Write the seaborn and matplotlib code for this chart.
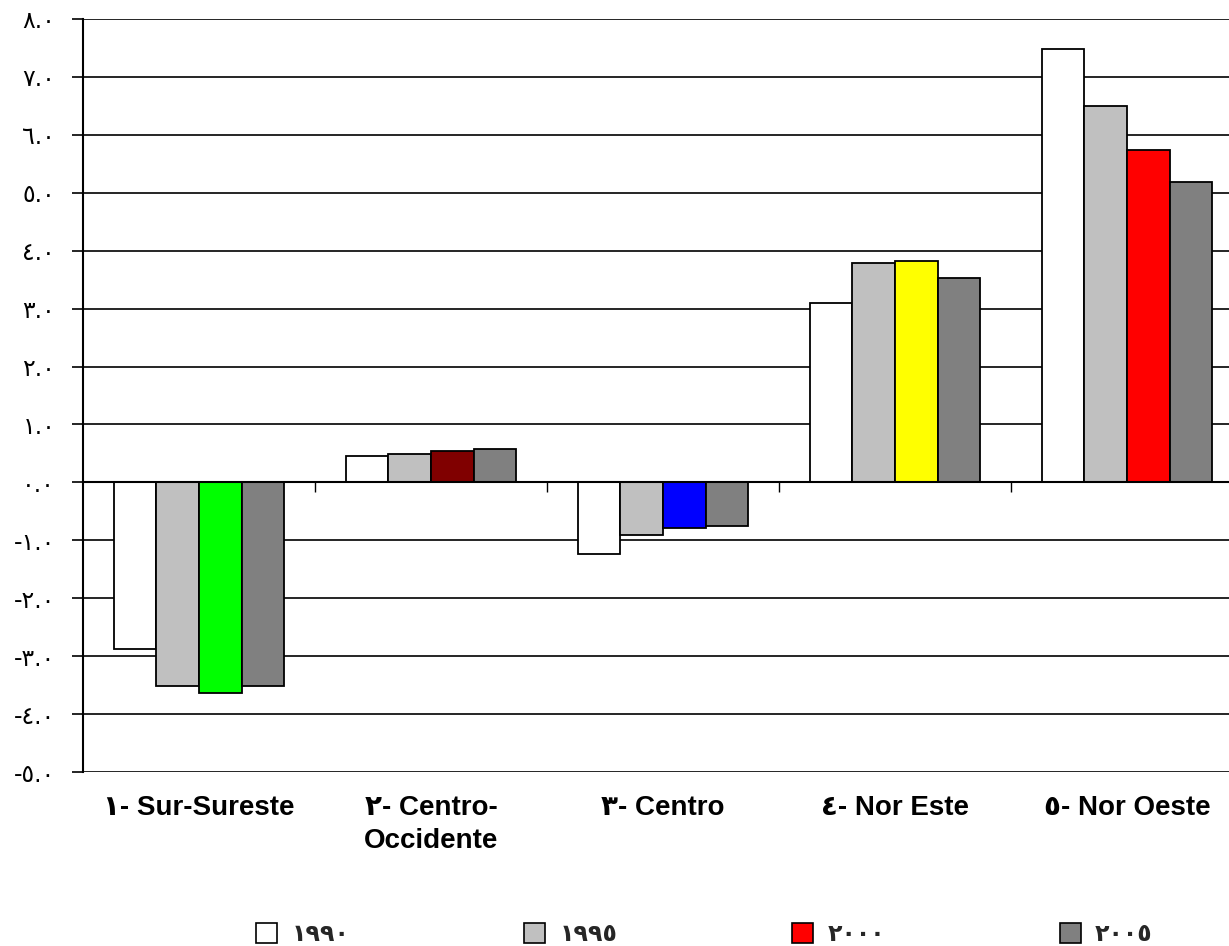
import numpy as np
import pandas as pd
import seaborn as sns
import matplotlib.pyplot as plt
from matplotlib.patches import Patch

# ---- data ----
regions = ["١- Sur-Sureste", "٢- Centro-\nOccidente", "٣- Centro", "٤- Nor Este", "٥- Nor Oeste"]
years = ["١٩٩٠", "١٩٩٥", "٢٠٠٠", "٢٠٠٥"]
v1990 = [-2.88, 0.45, -1.23, 3.10, 7.49]
v1995 = [-3.51, 0.49, -0.90, 3.79, 6.49]
v2000 = [-3.64, 0.54, -0.79, 3.83, 5.73]
v2005 = [-3.51, 0.58, -0.76, 3.53, 5.19]
yticks = list(range(-5, 9))

series_colors = ["#FFFFFF", "#C0C0C0", "#FF0000", "#808080"]
colors_2000 = ["#00FF00", "#800000", "#0000FF", "#FFFF00", "#FF0000"]

rows = []
for yr, vals in zip(years, [v1990, v1995, v2000, v2005]):
    for r, v in zip(regions, vals):
        rows.append({"region": r, "year": yr, "value": v})
df = pd.DataFrame(rows)

sns.set_theme(style="white")
plt.rcParams["font.family"] = ["Liberation Sans", "DejaVu Sans"]

fig = plt.figure(figsize=(12.29, 9.46), dpi=100)
W, H = 1229, 946
ax = fig.add_axes([83 / W, (H - 772) / H, 1160 / W, (772 - 19) / H])

sns.barplot(data=df, x="region", y="value", hue="year", order=regions,
            hue_order=years, palette=series_colors, width=0.733, gap=0,
            edgecolor="black", linewidth=1.3, saturation=1, ax=ax, legend=False,
            errorbar=None)

# per-category colours of the 2000 series
for patch, c in zip(ax.containers[2].patches, colors_2000):
    patch.set_facecolor(c)

ax.set_xlim(-0.5, 4.5)
ax.set_ylim(-5, 8)
ax.set_yticks(yticks)

def arabic_digits(s):
    return s.translate(str.maketrans("0123456789", "٠١٢٣٤٥٦٧٨٩"))

ax.set_yticklabels([arabic_digits(f"{t:.1f}") for t in yticks],
                   fontsize=17, family=["DejaVu Sans"])
ax.yaxis.grid(True, color="black", linewidth=1.2)
ax.set_axisbelow(True)
ax.tick_params(axis="y", left=True, direction="out", length=8, width=1.2,
               color="black", pad=12, labelcolor="black")

# x axis at zero with boundary ticks
ax.spines["bottom"].set_position(("data", 0))
ax.spines["bottom"].set_color("black")
ax.spines["bottom"].set_linewidth(1.5)
ax.set_xticks([0.5, 1.5, 2.5, 3.5])
ax.set_xticklabels([])
ax.tick_params(axis="x", bottom=True, direction="out", length=7, width=1.0,
               color="black")
ax.spines["left"].set_color("black")
ax.spines["left"].set_linewidth(1.5)
ax.spines["top"].set_visible(False)
ax.spines["right"].set_visible(False)
ax.set_xlabel("")
ax.set_ylabel("")

trans = ax.get_xaxis_transform()
for i, r in enumerate(regions):
    ax.text(i, -0.031, r, transform=trans, ha="center", va="top",
            multialignment="center", fontsize=20, fontweight="bold",
            family=["Liberation Sans", "DejaVu Sans"], linespacing=1.35,
            color="black")

handles = [Patch(facecolor=c, edgecolor="black", linewidth=1.2) for c in series_colors]
fig.legend(handles, years, loc="center", bbox_to_anchor=(0.573, (H - 934) / H),
           ncol=4, frameon=False, columnspacing=7.4, handlelength=0.9,
           handleheight=0.9, handletextpad=0.6,
           prop={"family": ["DejaVu Sans"], "weight": "bold", "size": 17})

fig.savefig("out.png", dpi=100)
